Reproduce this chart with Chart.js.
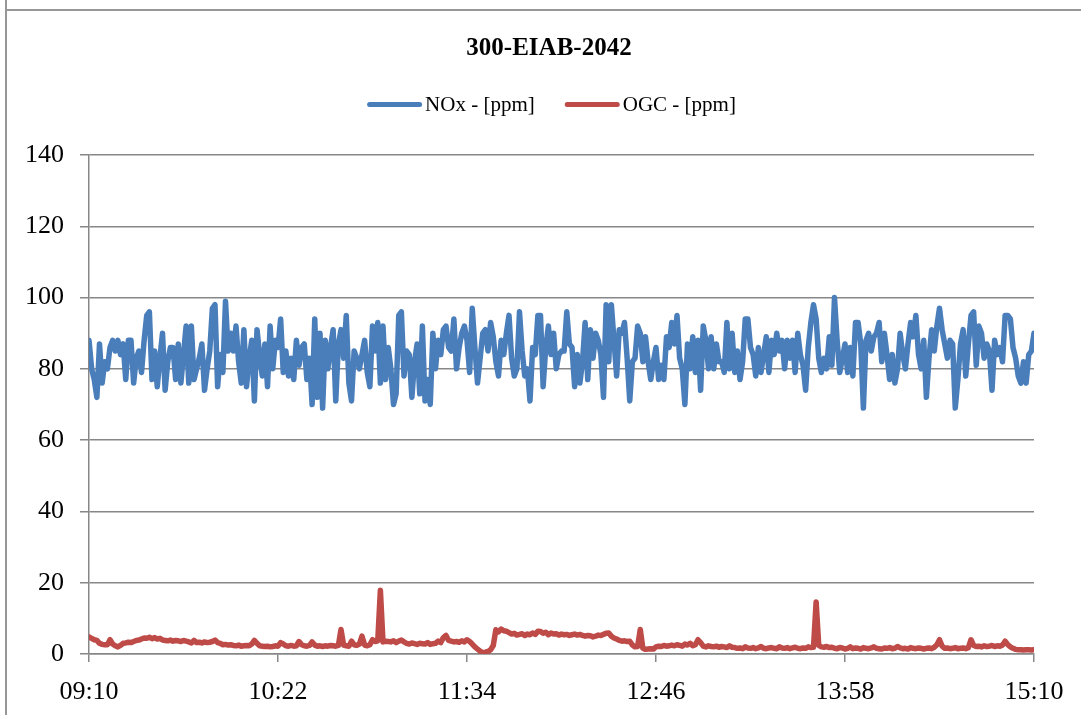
<!DOCTYPE html>
<html>
<head>
<meta charset="utf-8">
<script src="https://cdn.jsdelivr.net/npm/chart.js@4.4.1/dist/chart.umd.min.js"></script>
<style>
html,body{margin:0;padding:0;background:#fff;width:1081px;height:715px;overflow:hidden}
#wrap{position:absolute;left:0;top:0;width:1081px;height:715px}
.bt{position:absolute;left:5px;top:9px;width:1076px;height:2px;background:#979797}
.bl{position:absolute;left:5px;top:0;width:2px;height:715px;background:#979797}
</style>
</head>
<body>
<div id="wrap"><canvas id="c" width="1081" height="715" style="width:1081px;height:715px"></canvas></div>
<div class="bt"></div><div class="bl"></div>
<script>
const chartTitle = '300-EIAB-2042';
const seriesNames = ['NOx - [ppm]', 'OGC - [ppm]'];
const tickLabels = ['09:10', '10:22', '11:34', '12:46', '13:58', '15:10'];
const minutesPerTick = 72;

// NOx, one value per minute from 09:10 to 15:10
const noxValues = [
  88, 80, 77, 72, 87, 76, 82, 80, 86, 88,
  85, 88, 84, 87, 77, 88, 88, 76, 83, 85,
  79, 88, 95, 96, 77, 85, 75, 83, 90, 74,
  82, 86, 86, 77, 87, 76, 84, 92, 76, 92,
  77, 80, 83, 87, 74, 80, 85, 97, 98, 75,
  84, 79, 99, 85, 90, 85, 92, 82, 76, 91,
  75, 83, 88, 71, 91, 84, 78, 87, 75, 92,
  80, 88, 86, 94, 79, 85, 78, 83, 77, 88,
  81, 86, 87, 77, 83, 70, 94, 72, 90, 69,
  88, 80, 86, 91, 71, 87, 91, 83, 95, 76,
  71, 85, 83, 80, 84, 88, 79, 75, 92, 85,
  93, 76, 92, 77, 86, 80, 70, 73, 95, 96,
  78, 85, 84, 72, 82, 87, 73, 92, 71, 77,
  70, 90, 80, 88, 84, 91, 92, 86, 85, 94,
  80, 86, 90, 92, 88, 79, 97, 86, 76, 83,
  90, 91, 85, 93, 89, 82, 78, 88, 84, 90,
  95, 83, 78, 80, 96, 85, 78, 80, 71, 86,
  84, 95, 95, 75, 86, 92, 84, 90, 80, 84,
  85, 85, 96, 87, 86, 75, 84, 76, 82, 93,
  77, 91, 83, 90, 88, 84, 72, 98, 82, 98,
  88, 78, 91, 90, 93, 83, 71, 82, 83, 92,
  90, 82, 89, 82, 77, 82, 86, 77, 81, 77,
  89, 86, 93, 87, 95, 83, 80, 70, 87, 80,
  89, 79, 88, 74, 92, 88, 80, 89, 80, 87,
  82, 82, 79, 93, 80, 90, 79, 85, 77, 82,
  94, 94, 86, 84, 78, 86, 79, 84, 89, 79,
  88, 84, 90, 85, 88, 80, 88, 83, 88, 79,
  90, 84, 81, 74, 86, 93, 98, 94, 83, 79,
  83, 80, 89, 81, 100, 88, 79, 83, 87, 79,
  86, 78, 93, 93, 87, 69, 88, 90, 85, 89,
  90, 93, 82, 90, 84, 77, 84, 76, 80, 90,
  84, 80, 87, 93, 89, 95, 84, 80, 88, 72,
  83, 91, 85, 92, 97, 91, 87, 83, 88, 87,
  69, 77, 87, 91, 78, 87, 95, 96, 81, 92,
  90, 83, 87, 85, 74, 88, 84, 86, 82, 95,
  95, 94, 86, 83, 78, 76, 82, 76, 84, 85,
  90
];

// OGC, one value per minute from 09:10 to 15:10
const ogcValues = [
  4.8, 4.4, 4.0, 3.8, 3.0, 2.7, 2.6, 2.6, 4.0, 2.8,
  2.3, 2.0, 2.4, 3.0, 3.1, 3.3, 3.2, 3.5, 3.8, 3.9,
  4.2, 4.5, 4.4, 4.7, 4.3, 4.6, 4.2, 4.4, 3.9, 3.8,
  3.7, 3.9, 3.6, 3.8, 3.7, 3.5, 3.8, 3.6, 3.4, 3.1,
  3.8, 3.2, 3.3, 3.1, 3.4, 3.2, 3.3, 3.5, 3.9, 3.2,
  3.0, 2.6, 2.7, 2.5, 2.6, 2.4, 2.3, 2.5, 2.2, 2.3,
  2.4, 2.3, 2.8, 3.8, 3.0, 2.3, 2.2, 2.1, 2.2, 2.0,
  2.1, 2.3, 2.2, 3.2, 2.8, 2.3, 2.2, 2.4, 2.2, 2.3,
  3.5, 2.6, 2.3, 2.2, 2.4, 3.4, 2.5, 2.2, 2.3, 2.1,
  2.3, 2.2, 2.4, 2.3, 2.2, 2.4, 6.9, 2.5, 2.3, 2.2,
  3.6, 2.6, 2.4, 2.8, 5.0, 2.5, 2.3, 2.6, 4.0, 3.5,
  3.7, 17.9, 3.4, 3.6, 3.5, 3.4, 3.7, 3.2, 3.6, 3.9,
  3.4, 3.0, 2.8, 3.1, 2.9, 2.7, 3.0, 2.9, 2.8, 3.2,
  2.7, 2.9, 3.0, 3.6, 3.2, 4.6, 5.2, 3.8, 3.6, 3.4,
  3.5, 3.3, 3.7, 3.4, 4.0, 3.5, 2.8, 2.0, 1.4, 0.8,
  0.4, 0.5, 0.7, 1.2, 2.4, 6.8, 6.2, 7.0, 6.5, 6.4,
  6.0, 5.6, 5.8, 5.3, 5.5, 5.7, 5.2, 5.6, 5.4, 5.9,
  5.5, 6.4, 6.3, 5.8, 6.1, 5.4, 5.9, 5.6, 5.7, 5.3,
  5.6, 5.4, 5.5, 5.2, 5.4, 5.6, 5.3, 5.5, 5.2, 5.0,
  5.2, 5.1, 4.8, 5.0, 5.3, 5.2, 5.5, 5.8, 5.9, 5.0,
  4.5, 4.2, 3.8, 3.6, 3.7, 3.5, 3.6, 2.5, 2.0, 2.1,
  6.9, 1.6, 1.3, 1.4, 1.5, 1.4, 2.0, 2.2, 2.1, 2.4,
  2.2, 2.3, 2.5, 2.3, 2.6, 2.4, 2.2, 2.8, 2.5, 3.0,
  2.3, 2.6, 4.0, 3.2, 2.2, 2.0, 2.3, 2.1, 2.0, 2.2,
  1.9, 2.1, 2.0, 1.8, 2.3, 1.9, 1.8, 1.6, 1.7, 1.5,
  2.0, 1.7, 1.6, 1.8, 1.5, 1.7, 2.1, 1.6, 1.5, 1.7,
  1.8, 1.6, 1.5, 2.0, 1.7, 1.6, 1.8, 1.5, 1.7, 1.9,
  1.6, 1.5, 1.7, 1.6, 2.0, 1.8, 1.9, 14.6, 2.4, 2.0,
  1.9, 2.1, 1.8, 1.9, 1.6, 1.5, 1.8, 1.7, 1.4, 1.6,
  2.0, 1.5, 1.7, 1.6, 1.4, 1.8, 1.6, 1.5, 1.7, 2.0,
  1.6, 1.5, 1.4, 1.7, 1.6, 1.8, 1.5, 1.6, 2.1, 1.7,
  1.5, 1.6, 1.4, 1.8, 1.6, 1.5, 1.7, 1.6, 1.4, 1.6,
  1.7, 1.5, 1.9, 2.6, 4.0, 2.2, 1.6, 1.7, 1.5, 1.6,
  1.8, 1.5, 1.6, 1.7, 1.5, 1.8, 4.0, 2.4, 2.1, 2.2,
  2.0, 2.3, 2.1, 2.2, 2.4, 2.1, 2.3, 2.2, 2.5, 3.6,
  2.6, 2.0, 1.6, 1.3, 1.2, 1.2, 1.1, 1.2, 1.2, 1.1,
  1.2
];

const seriesColors = ['#4a7ebb', '#be4b48'];
const FONT = "'Liberation Serif', 'Times New Roman', serif";
const GRID = '#878787';

// Title and legend drawn above the plot, Excel style
const headerPlugin = {
  id: 'excelHeader',
  afterDraw(chart) {
    const ctx = chart.ctx;
    ctx.save();
    ctx.fillStyle = '#000';
    ctx.textBaseline = 'middle';
    ctx.textAlign = 'center';
    ctx.font = 'bold 25px ' + FONT;
    ctx.fillText(chartTitle, 549, 49);

    ctx.font = '21px ' + FONT;
    const sample = 55, gap = 3, between = 30;
    const items = chart.data.datasets.map(d => ({
      text: d.label, color: d.borderColor, w: ctx.measureText(d.label).width
    }));
    const total = items.reduce((s, it) => s + sample + gap + it.w, 0) + between * (items.length - 1);
    let x = 551.5 - total / 2;
    const y = 104.5;
    items.forEach(it => {
      ctx.strokeStyle = it.color;
      ctx.lineWidth = 5;
      ctx.lineCap = 'round';
      ctx.beginPath();
      ctx.moveTo(x + 2.5, y);
      ctx.lineTo(x + sample - 2.5, y);
      ctx.stroke();
      ctx.fillStyle = '#000';
      ctx.textAlign = 'left';
      ctx.fillText(it.text, x + sample + gap, y + 1);
      x += sample + gap + it.w + between;
    });
    ctx.restore();
  }
};

const lineStyle = (i) => ({
  borderColor: seriesColors[i],
  backgroundColor: seriesColors[i],
  borderWidth: 5.5,
  pointRadius: 0,
  pointHoverRadius: 0,
  tension: 0,
  borderJoinStyle: 'round',
  borderCapStyle: 'round'
});

new Chart(document.getElementById('c'), {
  type: 'line',
  data: {
    datasets: [
      Object.assign({ label: seriesNames[0], data: noxValues.map((v, i) => ({ x: i, y: v })) }, lineStyle(0)),
      Object.assign({ label: seriesNames[1], data: ogcValues.map((v, i) => ({ x: i, y: v })) }, lineStyle(1))
    ]
  },
  options: {
    responsive: false,
    animation: false,
    devicePixelRatio: 1,
    layout: { padding: { top: 155, left: 0, right: 47, bottom: 0 } },
    plugins: {
      legend: { display: false },
      tooltip: { enabled: false },
      title: { display: false }
    },
    scales: {
      x: {
        type: 'linear',
        min: 0,
        max: (tickLabels.length - 1) * minutesPerTick,
        ticks: {
          stepSize: minutesPerTick,
          autoSkip: false,
          maxRotation: 0,
          color: '#000',
          font: { family: FONT, size: 26 },
          padding: 15,
          callback: (v) => tickLabels[Math.round(v / minutesPerTick)]
        },
        grid: { drawOnChartArea: false, drawTicks: true, tickLength: 8, color: GRID, lineWidth: 1.5 },
        border: { display: true, color: GRID, width: 1.5 },
        afterFit(s) { s.height = 61; }
      },
      y: {
        min: 0,
        max: 140,
        ticks: {
          stepSize: 20,
          color: '#000',
          font: { family: FONT, size: 26 },
          padding: 16
        },
        grid: { color: GRID, lineWidth: 1.5, tickLength: 9, drawTicks: true },
        border: { display: true, color: GRID, width: 1.5 },
        afterFit(s) { s.width = 89; }
      }
    }
  },
  plugins: [headerPlugin]
});
</script>
</body>
</html>
